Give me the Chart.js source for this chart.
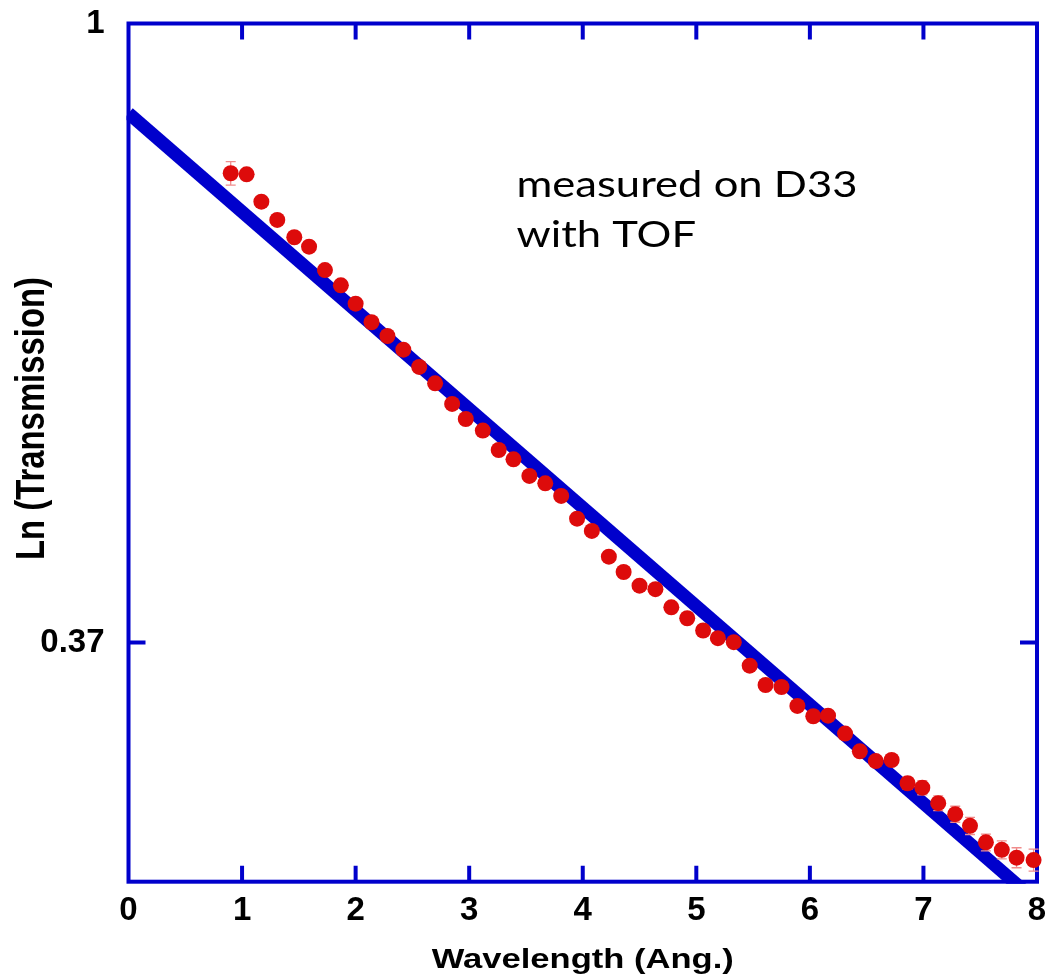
<!DOCTYPE html>
<html>
<head>
<meta charset="utf-8">
<title>Ln (Transmission) vs Wavelength</title>
<script src="https://cdn.jsdelivr.net/npm/chart.js@4.4.1/dist/chart.umd.min.js"></script>
<style>
  html, body { margin: 0; padding: 0; background: #ffffff; }
  #wrap { width: 1045px; height: 976px; position: relative; }
  canvas { display: block; }
</style>
</head>
<body>
<div id="wrap"><canvas id="c" width="1045" height="976"></canvas></div>
<script>
// ---- data ----
const wavelength = [0.90, 1.04, 1.17, 1.31, 1.46, 1.59, 1.73, 1.87, 2.00, 2.14, 2.28, 2.42, 2.56,
  2.70, 2.85, 2.97, 3.12, 3.26, 3.39, 3.53, 3.67, 3.81, 3.95, 4.08, 4.23, 4.36, 4.50, 4.64,
  4.78, 4.92, 5.06, 5.19, 5.33, 5.47, 5.61, 5.75, 5.89, 6.03, 6.16, 6.31, 6.44, 6.58, 6.72,
  6.86, 6.99, 7.13, 7.28, 7.41, 7.55, 7.69, 7.82, 7.97];
const transmission = [0.7851, 0.7838, 0.7499, 0.7281, 0.7080, 0.6973, 0.6715, 0.6551, 0.6360,
  0.6172, 0.6036, 0.5904, 0.5742, 0.5592, 0.5409, 0.5279, 0.5181, 0.5021, 0.4946, 0.4815,
  0.4758, 0.4662, 0.4494, 0.4406, 0.4226, 0.4123, 0.4033, 0.4010, 0.3894, 0.3826, 0.3751,
  0.3705, 0.3681, 0.3544, 0.3435, 0.3424, 0.3321, 0.3266, 0.3269, 0.3176, 0.3086, 0.3038,
  0.3043, 0.2931, 0.2910, 0.2838, 0.2788, 0.2736, 0.2664, 0.2632, 0.2599, 0.2589];
const errors = [0.0148, 0.0060, 0.0050, 0.0045, 0.0040, 0.0040, 0.0035, 0.0035, 0.0030, 0.0030,
  0.0030, 0.0030, 0.0030, 0.0030, 0.0025, 0.0025, 0.0025, 0.0025, 0.0025, 0.0025, 0.0025,
  0.0025, 0.0025, 0.0025, 0.0025, 0.0025, 0.0025, 0.0025, 0.0025, 0.0025, 0.0025, 0.0025,
  0.0025, 0.0025, 0.0025, 0.0025, 0.0025, 0.0025, 0.0025, 0.0025, 0.0025, 0.0025, 0.0025,
  0.0028, 0.0033, 0.0034, 0.0036, 0.0038, 0.0036, 0.0038, 0.0042, 0.0046];
const fitX = [0, 8];
const fitY = [0.865, 0.242];
const xTicks = [0, 1, 2, 3, 4, 5, 6, 7, 8];
const xTickLabels = ['0', '1', '2', '3', '4', '5', '6', '7', '8'];
const yTickValues = [0.36788, 1];
const yTickLabels = ['0.37', '1'];
const xTitle = 'Wavelength (Ang.)';
const yTitle = 'Ln (Transmission)';
const noteLines = ['measured on D33', 'with TOF'];

// ---- styles ----
const BLUE = '#0000CC';
const RED = '#DD0B0B';
const ERR = '#F08C8C';
const TICK_FONT = { family: '"Liberation Sans", Arial, sans-serif', size: 33, weight: 'bold' };

const framePlugin = {
  id: 'frame',
  beforeDatasetsDraw(chart) {
    const { ctx, chartArea: a, scales: { x, y } } = chart;
    ctx.save();
    ctx.strokeStyle = BLUE;
    ctx.lineWidth = 4;
    ctx.lineJoin = 'miter';
    ctx.strokeRect(a.left, a.top, a.right - a.left, a.bottom - a.top);
    ctx.beginPath();
    xTicks.forEach(v => {
      const px = x.getPixelForValue(v);
      if (px <= a.left + 1 || px >= a.right - 1) return;
      ctx.moveTo(px, a.bottom); ctx.lineTo(px, a.bottom - 16);
      ctx.moveTo(px, a.top); ctx.lineTo(px, a.top + 16);
    });
    yTickValues.forEach(v => {
      const py = y.getPixelForValue(v);
      if (py <= a.top + 1 || py >= a.bottom - 1) return;
      ctx.moveTo(a.left, py); ctx.lineTo(a.left + 17, py);
      ctx.moveTo(a.right, py); ctx.lineTo(a.right - 17, py);
    });
    ctx.stroke();
    ctx.restore();
  }
};

const errorBarPlugin = {
  id: 'errorBars',
  beforeDatasetDraw(chart, args) {
    if (args.index !== 0) return;
    const { ctx, scales: { x, y } } = chart;
    ctx.save();
    ctx.strokeStyle = ERR;
    ctx.lineWidth = 1.3;
    wavelength.forEach((w, i) => {
      const px = x.getPixelForValue(w);
      const top = y.getPixelForValue(transmission[i] + errors[i]);
      const bot = y.getPixelForValue(transmission[i] - errors[i]);
      ctx.beginPath();
      ctx.moveTo(px, top); ctx.lineTo(px, bot);
      ctx.moveTo(px - 5, top); ctx.lineTo(px + 5, top);
      ctx.moveTo(px - 5, bot); ctx.lineTo(px + 5, bot);
      ctx.stroke();
    });
    ctx.restore();
  }
};

const textPlugin = {
  id: 'texts',
  afterDraw(chart) {
    const { ctx, chartArea: a } = chart;
    ctx.save();
    ctx.fillStyle = '#000000';
    // x-axis title
    ctx.font = 'bold 27px "Liberation Sans", Arial, sans-serif';
    let w = ctx.measureText(xTitle).width;
    ctx.save();
    ctx.translate((a.left + a.right) / 2, a.bottom + 86);
    ctx.scale(302 / w, 1);
    ctx.textAlign = 'center';
    ctx.textBaseline = 'alphabetic';
    ctx.fillText(xTitle, 0, 0);
    ctx.restore();
    // y-axis title (rotated)
    ctx.font = 'bold 40px "Liberation Sans", Arial, sans-serif';
    w = ctx.measureText(yTitle).width;
    ctx.save();
    ctx.translate(a.left - 84.5, a.top + 395);
    ctx.rotate(-Math.PI / 2);
    ctx.scale(283 / w, 1);
    ctx.textAlign = 'center';
    ctx.textBaseline = 'alphabetic';
    ctx.fillText(yTitle, 0, 0);
    ctx.restore();
    // annotation
    ctx.font = '37px Lato, "Open Sans", sans-serif';
    w = ctx.measureText(noteLines[0]).width;
    const sx = 341 / w;
    ctx.textAlign = 'left';
    ctx.textBaseline = 'alphabetic';
    noteLines.forEach((line, i) => {
      ctx.save();
      ctx.translate(a.left + 388, a.top + 173.2 + i * 50);
      ctx.scale(sx, 1);
      ctx.fillText(line, 0, 0);
      ctx.restore();
    });
    ctx.restore();
  }
};

new Chart(document.getElementById('c'), {
  type: 'scatter',
  data: {
    datasets: [
      {
        type: 'scatter',
        label: 'measured on D33',
        data: wavelength.map((w, i) => ({ x: w, y: transmission[i] })),
        pointRadius: 8,
        pointHoverRadius: 8,
        pointBackgroundColor: RED,
        pointBorderColor: RED,
        pointBorderWidth: 0,
        clip: false
      },
      {
        type: 'line',
        label: 'fit',
        data: fitX.map((v, i) => ({ x: v, y: fitY[i] })),
        borderColor: BLUE,
        borderWidth: 13,
        borderCapStyle: 'butt',
        pointRadius: 0,
        pointHoverRadius: 0,
        fill: false,
        tension: 0,
        clip: 2
      }
    ]
  },
  options: {
    responsive: false,
    animation: false,
    devicePixelRatio: 1,
    events: [],
    layout: { padding: { top: 23.5, right: 8, bottom: 0, left: 0 } },
    plugins: { legend: { display: false }, tooltip: { enabled: false } },
    scales: {
      x: {
        type: 'linear',
        min: 0,
        max: 8,
        afterBuildTicks(scale) { scale.ticks = xTicks.map(v => ({ value: v })); },
        afterFit(scale) { scale.height = 976 - 881.7; scale.paddingLeft = 0; scale.paddingRight = 0; },
        ticks: {
          font: TICK_FONT, color: '#000000', padding: 9, maxRotation: 0, autoSkip: false,
          callback(v) { const i = xTicks.indexOf(v); return i >= 0 ? xTickLabels[i] : ''; }
        },
        grid: { display: false, drawTicks: false },
        border: { display: false },
        title: { display: false }
      },
      y: {
        type: 'logarithmic',
        min: 0.25,
        max: 1,
        afterBuildTicks(scale) { scale.ticks = yTickValues.map(v => ({ value: v })); },
        afterFit(scale) { scale.width = 128.5; scale.paddingTop = 0; scale.paddingBottom = 0; },
        ticks: {
          font: TICK_FONT, color: '#000000', padding: 24, autoSkip: false,
          callback(v) {
            const i = yTickValues.findIndex(t => Math.abs(t - v) < 1e-4);
            return i >= 0 ? yTickLabels[i] : '';
          }
        },
        grid: { display: false, drawTicks: false },
        border: { display: false },
        title: { display: false }
      }
    }
  },
  plugins: [framePlugin, errorBarPlugin, textPlugin]
});
</script>
</body>
</html>
